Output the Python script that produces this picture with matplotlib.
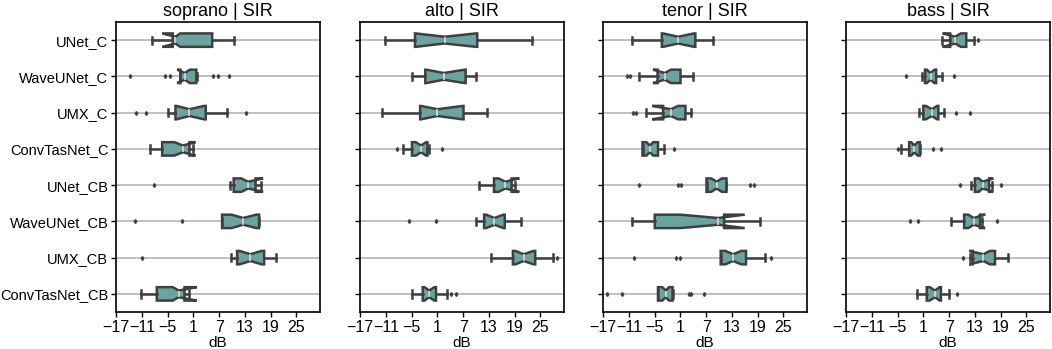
import numpy as np
import matplotlib
matplotlib.use("Agg")
import matplotlib.pyplot as plt

plt.rcParams['font.family'] = ['Liberation Sans', 'DejaVu Sans']

models = ["UNet_C", "WaveUNet_C", "UMX_C", "ConvTasNet_C",
          "UNet_CB", "WaveUNet_CB", "UMX_CB", "ConvTasNet_CB"]
voices = ["soprano", "alto", "tenor", "bass"]
xticks = [-17, -11, -5, 1, 7, 13, 19, 25]

# per model: whislo, q1, cilo, med, cihi, q3, whishi  (dB)
soprano_stats = [
    [-8.6, -3.8, -6.25, -3.15, -2.05, 5.4, 10.5],
    [-2.2, -2.0, -2.75, -1.0, 0.2, 1.7, 1.9],
    [-4.8, -3.15, -2.9, 0.1, 3.5, 3.9, 8.9],
    [-9.05, -6.25, -3.4, -1.45, 1.5, 0.1, 0.9],
    [9.6, 10.4, 12.2, 13.75, 17.25, 15.5, 16.65],
    [7.7, 7.7, 9.9, 12.6, 15.7, 16.3, 16.3],
    [9.7, 11.2, 11.8, 14.3, 16.9, 17.5, 20.15],
    [-11.15, -7.5, -3.8, -2.4, 1.8, -1.05, -0.05],
]
soprano_fliers = [[], [-13.7, -5.5, -4.4, 5.7, 6.7, 9.2], [-12.3, -10.0, 13.2], [],
                  [-8.05], [-12.5, -1.65], [-10.9], []]

alto_stats = [
    [-11.2, -4.2, -4.0, 2.7, 10.0, 10.3, 23.1],
    [-4.8, -1.8, -1.6, 2.5, 7.4, 7.6, 10.1],
    [-11.8, -3.0, -2.8, 1.0, 6.9, 7.1, 12.6],
    [-7.1, -4.9, -4.0, -2.8, -1.6, -1.3, -1.0],
    [10.7, 14.2, 15.3, 16.8, 20.1, 18.3, 19.0],
    [10.1, 11.9, 12.4, 14.3, 16.4, 16.7, 20.6],
    [13.5, 18.6, 19.2, 21.1, 23.4, 23.8, 28.0],
    [-4.8, -2.4, -2.0, -0.9, 0.3, 0.7, 3.2],
]
alto_fliers = [[], [], [], [-8.3, 2.1], [], [-5.5, 0.7], [28.8], [4.3, 5.4]]

tenor_stats = [
    [-10.2, -3.3, -3.0, 0.5, 4.2, 4.5, 8.5],
    [-8.7, -4.3, -5.35, -2.6, -1.2, 1.05, 3.85],
    [-7.05, -3.0, -5.5, -1.2, 0.5, 2.2, 3.6],
    [-7.8, -7.8, -6.9, -6.1, -5.3, -4.2, -2.8],
    [7.1, 7.1, 8.2, 9.45, 10.7, 11.75, 11.75],
    [-10.25, -4.95, 1.0, 9.8, 16.0, 11.2, 19.5],
    [10.4, 10.4, 11.5, 13.3, 15.2, 16.3, 20.8],
    [-4.2, -4.2, -3.2, -2.4, -1.6, -0.8, -0.8],
]
tenor_fliers = [[], [-11.3, -10.8], [-10.0, -9.2], [-0.5],
                [-8.7, 0.35, 1.25, 17.2, 18.2], [], [-9.8, -0.1, 1.0, 22.2],
                [-16.1, -12.6, 3.0, 3.4, 6.5]]

bass_stats = [
    [5.4, 7.25, 5.5, 8.4, 9.75, 11.0, 12.7],
    [0.6, 1.4, 1.8, 2.7, 3.6, 4.0, 5.4],
    [0.0, 1.0, 1.6, 3.0, 4.2, 4.5, 5.8],
    [-4.3, -2.3, -1.8, -1.1, -0.3, 0.2, 0.2],
    [12.2, 13.0, 13.9, 14.8, 17.3, 16.3, 17.0],
    [7.4, 10.5, 11.5, 12.7, 15.4, 14.2, 14.6],
    [11.9, 12.5, 11.7, 15.0, 16.5, 17.7, 20.8],
    [-0.4, 1.8, 2.5, 3.7, 4.8, 5.1, 7.0],
]
bass_fliers = [[13.8], [-3.0, 8.2], [8.6, 11.9], [-4.8, 3.2, 5.1],
               [9.6, 19.1], [-2.2, -0.3, 18.1], [10.2], [8.8]]

all_stats = [soprano_stats, alto_stats, tenor_stats, bass_stats]
all_fliers = [soprano_fliers, alto_fliers, tenor_fliers, bass_fliers]

box_color = "#6ca3a1"
edge_color = "#3f3f3f"

fig = plt.figure(figsize=(10.52, 3.49), dpi=100)
lefts = [116, 360, 603, 846]
for k, voice in enumerate(voices):
    ax = fig.add_axes([lefts[k] / 1052, 37 / 349, 204 / 1052, 290 / 349])
    stats = []
    for row, fl in zip(all_stats[k], all_fliers[k]):
        wl, q1, clo, med, chi, q3, wh = row
        stats.append(dict(whislo=wl, q1=q1, cilo=clo, med=med, cihi=chi,
                          q3=q3, whishi=wh, fliers=np.array(fl)))
    ax.bxp(stats, positions=range(len(models)), widths=0.37, orientation='horizontal',
           shownotches=True, patch_artist=True, capwidths=0.2,
           boxprops=dict(facecolor=box_color, edgecolor=edge_color, linewidth=1.8),
           whiskerprops=dict(color=edge_color, linewidth=1.8),
           capprops=dict(color=edge_color, linewidth=1.8),
           medianprops=dict(color="#d8dcdc", linewidth=1.2),
           flierprops=dict(marker='d', markersize=2, markerfacecolor=edge_color,
                           markeredgecolor=edge_color))
    ax.set_ylim(7.5, -0.5)
    ax.set_xlim(-17, 30.5)
    ax.set_xticks(xticks)
    ax.set_xticklabels([str(t).replace('-', '\u2212') for t in xticks], fontsize=11.5)
    ax.set_yticks(range(len(models)))
    if k == 0:
        ax.set_yticklabels(models, fontsize=10.5)
    else:
        ax.set_yticklabels([])
    ax.grid(axis='y', color='#b5b5b5', linewidth=1.2)
    ax.set_axisbelow(True)
    ax.set_title(voice + " | SIR", fontsize=13, pad=4)
    ax.set_xlabel("dB", fontsize=11, labelpad=1)
    for s in ax.spines.values():
        s.set_linewidth(1.2)
    ax.tick_params(length=3.5, width=1, pad=2)

fig.savefig("out.png", dpi=100)
